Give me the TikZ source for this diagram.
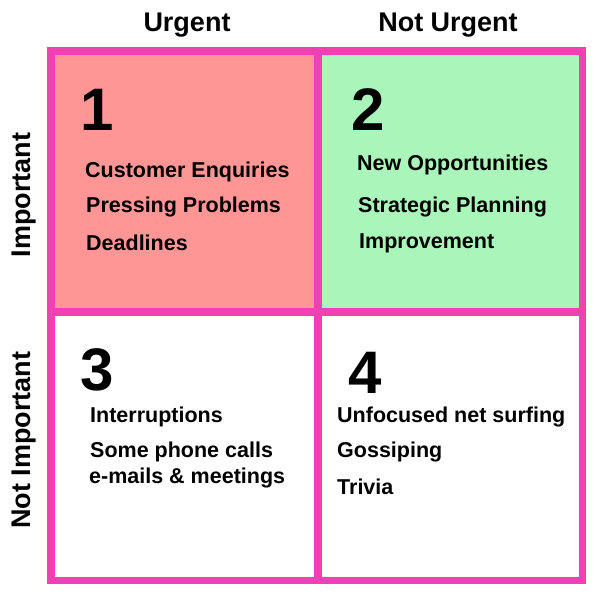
\documentclass[tikz,border=0pt]{standalone}
\usepackage{fontspec}
\setmainfont{Liberation Sans}
\definecolor{pk}{RGB}{240,64,180}
\definecolor{rd}{RGB}{255,150,150}
\definecolor{gn}{RGB}{170,245,185}
\begin{document}
\begin{tikzpicture}[x=1pt,y=-1pt,
  item/.style={anchor=west,font=\fontsize{21.5}{24}\selectfont\bfseries,inner sep=0},
  num/.style={anchor=center,font=\fontsize{60}{64}\selectfont\bfseries,inner sep=0},
  head/.style={font=\fontsize{27}{30}\selectfont\bfseries,inner sep=0}]
\useasboundingbox (0,0) rectangle (600,600);
\fill[pk] (47,47) rectangle (586,584);
\fill[rd] (55,55) rectangle (314,308);
\fill[gn] (322,55) rectangle (579,308);
\fill[white] (55,316) rectangle (314,577);
\fill[white] (322,316) rectangle (579,577);
\node[head] (u) at (187,25) {Urgent};
\node[head] (nu) at (448,25) {Not Urgent};
\node[head,rotate=90] (im) at (24,195) {Important};
\node[head,rotate=90] (ni) at (24,440) {Not Important};
\node[num] (n1) at (97,110) {1};
\node[num] (n2) at (368,110) {2};
\node[num] (n3) at (97,370) {3};
\node[num] (n4) at (365,373) {4};
\node[item] (a1) at (85,172) {Customer Enquiries};
\node[item] (a2) at (86,207) {Pressing Problems};
\node[item] (a3) at (86,243) {Deadlines};
\node[item] (b1) at (357,165) {New Opportunities};
\node[item] (b2) at (358,207) {Strategic Planning};
\node[item] (b3) at (359,243) {Improvement};
\node[item] (c1) at (90,417) {Interruptions};
\node[item] (c2) at (90,452) {Some phone calls};
\node[item] (c3) at (89,478) {e-mails \& meetings};
\node[item] (d1) at (337,417) {Unfocused net surfing};
\node[item] (d2) at (337,452) {Gossiping};
\node[item] (d3) at (337,487) {Trivia};
\end{tikzpicture}
\end{document}
